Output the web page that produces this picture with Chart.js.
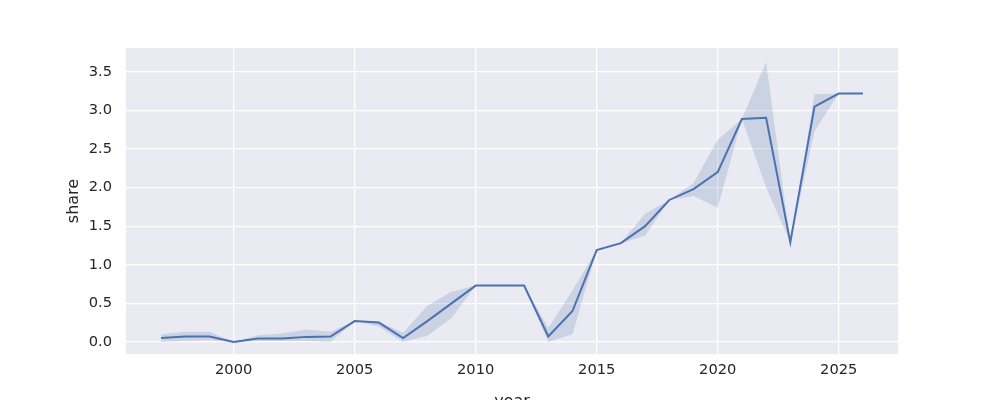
<!DOCTYPE html>
<html>
<head>
<meta charset="utf-8">
<script src="https://cdn.jsdelivr.net/npm/chart.js@4"></script>
<style>
  html, body { margin: 0; padding: 0; background: #fff; overflow: hidden; }
  #wrap { width: 1000px; height: 400px; position: relative; }
</style>
</head>
<body>
<div id="wrap"><canvas id="shareChart"></canvas></div>
<script>
"use strict";

const years = [1997, 1998, 1999, 2000, 2001, 2002, 2003, 2004, 2005, 2006,
	2007, 2008, 2009, 2010, 2011, 2012, 2013, 2014, 2015, 2016,
	2017, 2018, 2019, 2020, 2021, 2022, 2023, 2024, 2025, 2026];

const shareMean = [0.05, 0.07, 0.07, 0.0, 0.045, 0.045, 0.065, 0.07, 0.27, 0.25,
	0.05, 0.27, 0.50, 0.73, 0.73, 0.73, 0.07, 0.40, 1.19, 1.28,
	1.50, 1.84, 1.98, 2.20, 2.89, 2.905, 1.29, 3.05, 3.22, 3.22];

const shareHigh = [0.10, 0.13, 0.13, 0.0, 0.087, 0.11, 0.16, 0.13, 0.27, 0.26,
	0.12, 0.47, 0.65, 0.73, 0.73, 0.73, 0.18, 0.67, 1.19, 1.29,
	1.66, 1.84, 2.06, 2.62, 2.89, 3.63, 1.29, 3.21, 3.22, 3.22];

const shareLow = [0.0, 0.01, 0.02, 0.0, 0.01, 0.01, 0.01, 0.0, 0.27, 0.20,
	0.0, 0.08, 0.31, 0.73, 0.73, 0.73, 0.0, 0.10, 1.19, 1.28,
	1.375, 1.84, 1.89, 1.74, 2.89, 2.0, 1.29, 2.73, 3.22, 3.22];

const xTicks = [2000, 2005, 2010, 2015, 2020, 2025];
const yTicks = [0.0, 0.5, 1.0, 1.5, 2.0, 2.5, 3.0, 3.5];

const toPoints = (vals) => years.map((y, i) => ({ x: y, y: vals[i] }));

const lineColor = "#4C72B0";
const bandColor = "rgba(76, 114, 176, 0.2)";
const textColor = "#262626";

const plotBackground = {
	id: "plotBackground",
	beforeDraw: (chart) => {
		const { ctx, chartArea } = chart;
		ctx.save();
		ctx.fillStyle = "#EAEAF2";
		ctx.fillRect(chartArea.left, chartArea.top,
			chartArea.right - chartArea.left, chartArea.bottom - chartArea.top);
		ctx.restore();
	},
};

const ctx = document.getElementById("shareChart").getContext("2d");
const shareChart = new Chart(ctx, {
	type: "line",
	data: {
		datasets: [
			{
				label: "high",
				data: toPoints(shareHigh),
				borderWidth: 0,
				pointRadius: 0,
				backgroundColor: bandColor,
				fill: "+1",
			},
			{
				label: "low",
				data: toPoints(shareLow),
				borderWidth: 0,
				pointRadius: 0,
				fill: false,
			},
			{
				label: "share",
				data: toPoints(shareMean),
				borderColor: lineColor,
				borderWidth: 2,
				pointRadius: 0,
				fill: false,
			},
		],
	},
	options: {
		responsive: true,
		maintainAspectRatio: false,
		animation: false,
		layout: { padding: { left: 0, right: 102, top: 48, bottom: 0 } },
		plugins: {
			legend: { display: false },
			tooltip: { enabled: false },
		},
		scales: {
			x: {
				type: "linear",
				min: 1995.55,
				max: 2027.45,
				afterBuildTicks: (scale) => {
					scale.ticks = xTicks.map((v) => ({ value: v }));
				},
				afterFit: (scale) => {
					scale.height = 46;
				},
				grid: { color: "#ffffff", lineWidth: 1.3, drawTicks: false },
				border: { display: false },
				ticks: {
					color: textColor,
					padding: 7,
					maxRotation: 0,
					font: { family: "DejaVu Sans", size: 14.67 },
					callback: (v) => String(v),
				},
				title: {
					display: true,
					text: "year",
					color: textColor,
					font: { family: "DejaVu Sans", size: 16 },
					padding: { top: 0, bottom: -11 },
				},
			},
			y: {
				type: "linear",
				min: -0.157,
				max: 3.81,
				afterBuildTicks: (scale) => {
					scale.ticks = yTicks.map((v) => ({ value: v }));
				},
				afterFit: (scale) => {
					scale.width = 126;
				},
				grid: { color: "#ffffff", lineWidth: 1.3, drawTicks: false },
				border: { display: false },
				ticks: {
					color: textColor,
					padding: 14,
					font: { family: "DejaVu Sans", size: 14.67 },
					callback: (v) => v.toFixed(1),
				},
				title: {
					display: true,
					text: "share",
					color: textColor,
					font: { family: "DejaVu Sans", size: 16 },
					padding: { top: 64, bottom: 0 },
				},
			},
		},
	},
	plugins: [plotBackground],
});
</script>
</body>
</html>
